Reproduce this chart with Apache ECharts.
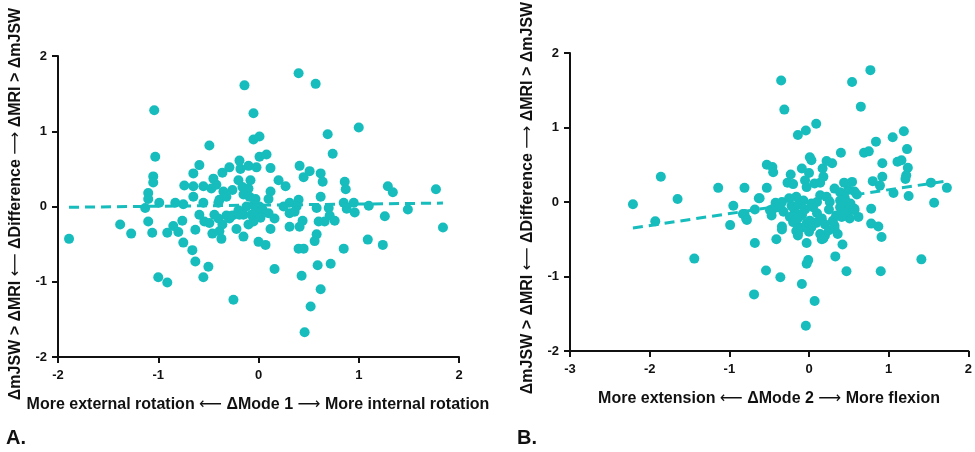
<!DOCTYPE html>
<html>
<head>
<meta charset="utf-8">
<script src="https://cdn.jsdelivr.net/npm/echarts@6/dist/echarts.min.js"></script>
<style>
html, body { margin: 0; padding: 0; background: #fff; }
#chart { width: 975px; height: 452px; }
</style>
</head>
<body>
<div id="chart"></div>
<script>
// panel A: delta mode 1 vs delta difference
var pointsA = [
  [-1.89,-0.43],[-1.38,-0.24],[-1.27,-0.36],[-1.13,-0.02],[-1.10,-0.20],[-1.06,-0.35],[-1.10,0.18],[-1.10,0.10],
  [-1.05,0.40],[-1.05,0.32],[-1.03,0.66],[-1.04,1.28],[-0.99,0.05],[-1.00,-0.94],[-0.91,-1.01],[-0.91,-0.35],
  [-0.85,-0.26],[-0.83,0.05],[-0.80,-0.34],[-0.76,-0.19],[-0.75,-0.48],[-0.74,0.28],[-0.66,-0.58],[-0.63,-0.73],
  [-0.50,-0.80],[-0.55,-0.94],[-0.63,-0.31],[-0.59,-0.11],[-0.49,0.81],[-0.59,0.55],[-0.65,0.44],[-0.65,0.27],
  [-0.65,0.13],[-0.55,0.27],[-0.45,0.37],[-0.47,0.24],[-0.42,0.29],[-0.36,0.45],[-0.29,0.52],[-0.19,0.61],
  [-0.18,0.50],[-0.10,0.54],[-0.02,0.52],[-0.14,1.61],[-0.05,1.24],[-0.05,0.89],[0.01,0.93],[0.01,0.66],
  [0.08,0.69],[0.12,0.51],[-0.35,0.20],[-0.26,0.22],[-0.32,0.13],[-0.39,0.09],[-0.16,0.26],[-0.10,0.24],
  [-0.15,0.16],[-0.09,0.13],[-0.03,0.10],[-0.05,0.02],[-0.12,0.00],[0.01,0.00],[0.04,-0.04],[0.12,0.20],
  [0.10,0.10],[0.20,0.35],[0.27,0.27],[0.40,1.77],[0.57,1.63],[1.00,1.05],[0.69,0.96],[0.74,0.70],
  [0.41,0.54],[0.51,0.47],[0.45,0.39],[0.62,0.44],[0.64,0.33],[0.86,0.33],[0.87,0.23],[1.29,0.27],
  [1.34,0.19],[1.77,0.23],[1.84,-0.28],[0.62,0.13],[0.40,0.09],[0.31,0.05],[0.25,0.00],[0.38,0.00],
  [0.58,-0.02],[0.70,-0.02],[0.85,0.05],[0.88,-0.03],[0.95,0.05],[0.96,-0.08],[1.10,0.01],[1.26,-0.13],
  [1.49,-0.04],[1.09,-0.44],[1.24,-0.51],[0.71,-0.12],[0.31,-0.09],[0.36,-0.07],[0.16,-0.16],[0.12,-0.30],
  [0.31,-0.27],[0.41,-0.27],[0.44,-0.19],[0.60,-0.20],[0.66,-0.20],[0.76,-0.19],[0.58,-0.37],[0.56,-0.46],
  [0.40,-0.56],[0.45,-0.56],[0.85,-0.56],[0.16,-0.83],[0.43,-0.92],[0.59,-0.78],[0.72,-0.76],[0.62,-1.10],
  [0.52,-1.33],[0.46,-1.67],[0.00,-0.47],[0.07,-0.51],[-0.15,-0.40],[-0.25,-1.24],[-0.37,-0.43],[-0.46,-0.36],
  [-0.39,-0.33],[-0.36,-0.24],[-0.54,-0.20],[-0.49,-0.22],[-0.44,-0.11],[-0.32,-0.12],[-0.26,-0.12],[-0.15,-0.11],
  [-0.10,-0.24],[-0.07,-0.11],[-0.03,-0.07],[0.10,-0.09],[-0.29,-0.16],[-0.20,-0.05],[-0.55,0.05],[-0.75,0.03],
  [-0.20,0.35],[-0.08,0.35],[-0.22,-0.30],[-0.05,-0.20],[0.02,-0.15],[-0.40,0.05],[-0.40,-0.16],[-0.29,-0.13],
  [-0.19,-0.11]
];
var trendA = [[-1.89,-0.01],[1.84,0.045]];

// panel B: delta mode 2 vs delta difference
var pointsB = [
  [-2.21,-0.03],[-1.86,0.34],[-1.65,0.04],[-1.93,-0.26],[-1.14,0.19],[-0.81,0.19],[-0.95,-0.05],[-0.99,-0.31],
  [-0.81,-0.16],[-0.79,-0.22],[-0.68,-0.10],[-0.63,0.05],[-1.44,-0.76],[-0.68,-0.55],[-0.69,-1.24],
  [-0.35,1.63],[0.54,1.61],[0.77,1.77],[-0.31,1.24],[0.65,1.28],[-0.14,0.90],[-0.04,0.96],[0.09,1.05],
  [0.40,0.66],[0.69,0.66],[0.75,0.68],[0.84,0.81],[1.05,0.87],[1.19,0.95],[1.23,0.71],[0.92,0.52],
  [1.11,0.54],[1.16,0.56],[1.24,0.46],[1.21,0.31],[1.22,0.36],[0.92,0.34],[0.80,0.28],[0.89,0.22],
  [1.06,0.12],[1.25,0.08],[1.53,0.26],[1.73,0.19],[1.57,-0.01],[0.78,-0.09],[0.78,-0.29],[0.87,-0.33],
  [-0.53,0.50],[-0.46,0.47],[-0.45,0.40],[-0.53,0.19],[-0.62,0.05],[-0.23,0.37],[-0.09,0.45],[0.01,0.60],
  [0.03,0.56],[0.00,0.39],[0.17,0.45],[0.22,0.55],[0.29,0.52],[0.18,0.34],[-0.27,0.26],[-0.20,0.24],
  [-0.05,0.29],[-0.03,0.20],[0.07,0.25],[0.14,0.26],[0.44,0.26],[0.54,0.27],[0.32,0.18],[0.39,0.13],
  [0.49,0.16],[0.57,0.14],[0.60,0.10],[-0.34,0.00],[-0.42,-0.01],[-0.49,-0.11],[-0.39,-0.07],[-0.16,0.07],
  [-0.07,0.02],[-0.14,-0.04],[-0.18,-0.13],[-0.09,-0.16],[0.03,-0.02],[0.14,0.09],[0.22,0.07],[0.26,0.00],
  [0.39,0.02],[0.43,-0.04],[0.49,-0.11],[0.57,-0.09],[0.43,-0.18],[0.51,-0.22],[-0.83,-0.16],[-0.78,-0.24],
  [-0.34,-0.33],[-0.14,-0.33],[0.32,-0.32],
  [-0.04,-1.66],[0.07,-1.33],[-0.09,-1.10],[-0.54,-0.92],[-0.36,-1.01],[-0.03,-0.83],[-0.01,-0.78],[0.47,-0.93],
  [0.90,-0.93],[1.41,-0.77],[0.33,-0.73],[0.42,-0.57],[-0.03,-0.55],[-0.41,-0.50],[-0.34,-0.37],[-0.14,-0.42],
  [-0.16,-0.39],[0.14,-0.43],[0.20,-0.45],[0.16,-0.50],[0.32,-0.36],[0.36,-0.43],[0.91,-0.47],
  [-0.47,-0.18],[-0.45,-0.09],[-0.32,-0.13],[-0.24,-0.20],[-0.20,-0.27],[-0.14,-0.22],[-0.09,-0.18],[-0.03,-0.29],
  [0.01,-0.25],[0.03,-0.34],[0.09,-0.28],[0.16,-0.22],[0.05,-0.07],[-0.20,-0.07],[-0.12,-0.02],[0.39,-0.07],
  [0.47,-0.13],[0.57,-0.11],[0.62,-0.20],[0.34,-0.18],[0.41,-0.20],
  [-0.22,-0.05],[-0.05,-0.10],[0.10,-0.15],[0.25,-0.10],[0.30,-0.25],[0.20,-0.30],[-0.25,0.05],[0.10,0.00],
  [0.45,0.05],[0.52,-0.02],[-0.10,-0.35],[0.00,-0.40],[0.25,-0.38],[-0.14,-0.45],[0.18,-0.49]
];
var trendB = [[-2.21,-0.35],[1.72,0.28]];

var yTitle = 'ΔmJSW > ΔMRI ⟵ ΔDifference ⟶ ΔMRI > ΔmJSW';
var xTitleA = 'More external rotation ⟵ ΔMode 1 ⟶ More internal rotation';
var xTitleB = 'More extension ⟵ ΔMode 2 ⟶ More flexion';

var teal = '#17bdbd';
var ink = '#111';
var font = '"Liberation Sans", Arial, "DejaVu Sans", sans-serif';

// bold words, thin arrows
function richTitle(s) {
  return s.split(/([⟵⟶])/).map(function (part) {
    if (part === '⟵' || part === '⟶') return '{a|' + part + '}';
    return part ? '{b|' + part + '}' : '';
  }).join('');
}
var titleRich = {
  b: { fontFamily: font, fontWeight: 'bold', fontSize: 16, fill: ink, color: ink },
  a: { fontFamily: '"DejaVu Sans", sans-serif', fontWeight: 'normal', fontSize: 16, fill: ink, color: ink }
};

function titleText(x, y, s, rot) {
  return { type: 'text', x: x, y: y, rotation: rot || 0,
    style: { text: richTitle(s), rich: titleRich, fill: ink, align: 'center', verticalAlign: 'middle' } };
}

function axisStyle() {
  return {
    axisLine: { show: true, onZero: false, lineStyle: { color: ink, width: 2 } },
    axisTick: { show: true, length: 6, lineStyle: { color: ink, width: 2 } },
    axisLabel: { color: ink, fontSize: 13, fontWeight: 'bold', fontFamily: font },
    splitLine: { show: false }
  };
}

function xAxis(idx, min, max) {
  var a = axisStyle();
  a.type = 'value'; a.gridIndex = idx; a.min = min; a.max = max; a.interval = 1;
  a.axisLabel.margin = 12;
  return a;
}
function yAxis(idx) {
  var a = axisStyle();
  a.type = 'value'; a.gridIndex = idx; a.min = -2; a.max = 2; a.interval = 1;
  a.axisLabel.margin = 11;
  return a;
}

var chart = echarts.init(document.getElementById('chart'));
chart.setOption({
  animation: false,
  backgroundColor: '#fff',
  grid: [
    { left: 58, top: 56, width: 401, height: 301 },
    { left: 570, top: 53, width: 399, height: 298 }
  ],
  xAxis: [xAxis(0, -2, 2), xAxis(1, -3, 2)],
  yAxis: [yAxis(0), yAxis(1)],
  series: [
    { type: 'line', xAxisIndex: 0, yAxisIndex: 0, data: trendA, symbol: 'none', silent: true,
      lineStyle: { color: teal, width: 3, type: [10, 6] } },
    { type: 'scatter', xAxisIndex: 0, yAxisIndex: 0, data: pointsA, symbolSize: 10,
      itemStyle: { color: teal, opacity: 1 } },
    { type: 'line', xAxisIndex: 1, yAxisIndex: 1, data: trendB, symbol: 'none', silent: true,
      lineStyle: { color: teal, width: 3, type: [10, 6] } },
    { type: 'scatter', xAxisIndex: 1, yAxisIndex: 1, data: pointsB, symbolSize: 10,
      itemStyle: { color: teal, opacity: 1 } }
  ],
  graphic: [
    titleText(16, 204, yTitle, Math.PI / 2),
    titleText(528, 198, yTitle, Math.PI / 2),
    titleText(258, 405, xTitleA),
    titleText(769, 399, xTitleB),
    { type: 'text', x: 6, y: 438,
      style: { text: 'A.', fill: ink, font: 'bold 20px ' + font, align: 'left', verticalAlign: 'middle' } },
    { type: 'text', x: 517, y: 438,
      style: { text: 'B.', fill: ink, font: 'bold 20px ' + font, align: 'left', verticalAlign: 'middle' } }
  ]
});
</script>
</body>
</html>
